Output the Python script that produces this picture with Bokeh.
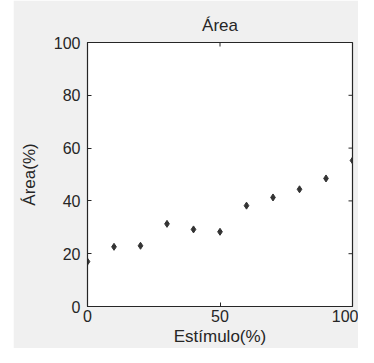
import math
from bokeh.plotting import figure
from bokeh.models import FixedTicker, Range1d, Spacer
from bokeh.layouts import row
from bokeh.embed import file_html
from bokeh.resources import INLINE

# Data
estimulo = [0, 10, 20, 30, 40, 50, 60, 70, 80, 90, 100]
area = [17, 22.6, 23, 31.3, 29.2, 28.3, 38.2, 41.3, 44.4, 48.5, 55.3]
x_ticks = [0, 50, 100]
y_ticks = [0, 20, 40, 60, 80, 100]
x_min, x_max = 0, 100
y_min, y_max = 0, 100

FONT = "Liberation Sans"
TXT = "#262626"
GREY = "#f0f0f0"

p = figure(width=345, height=347, output_backend="svg", toolbar_location=None,
           x_range=Range1d(x_min, x_max), y_range=Range1d(y_min, y_max),
           title="Área", min_border_left=74, min_border_right=6,
           min_border_top=42, min_border_bottom=41)
p.frame_width = 265
p.frame_height = 264
p.background_fill_color = "white"
p.border_fill_color = GREY
p.outline_line_color = TXT
p.outline_line_width = 1.2
p.grid.visible = False

p.title.align = "center"
p.title.text_font = FONT
p.title.text_font_size = "17px"
p.title.text_font_style = "normal"
p.title.text_color = TXT
p.title.standoff = 15

# inward ticks on the top and right edges (box style)
p.ray(x=x_ticks, y=[y_max] * len(x_ticks), length=4, length_units="screen",
      angle=-math.pi / 2, line_color=TXT, line_width=1)
p.ray(x=[x_max] * len(y_ticks), y=y_ticks, length=4, length_units="screen",
      angle=math.pi, line_color=TXT, line_width=1)

p.scatter(estimulo, area, marker="diamond", size=7, color="#333333")

for ax, ticks in ((p.xaxis[0], x_ticks), (p.yaxis[0], y_ticks)):
    ax.ticker = FixedTicker(ticks=ticks)
    ax.major_tick_in = 4
    ax.major_tick_out = 0
    ax.minor_tick_line_color = None
    ax.axis_line_color = TXT
    ax.major_tick_line_color = TXT
    ax.major_label_text_font = FONT
    ax.major_label_text_font_size = "16px"
    ax.major_label_text_color = TXT
    ax.axis_label_text_font = FONT
    ax.axis_label_text_font_size = "17px"
    ax.axis_label_text_font_style = "normal"
    ax.axis_label_text_color = TXT

p.xaxis[0].axis_label = "Estímulo(%)"
p.yaxis[0].axis_label = "Área(%)"
p.xaxis[0].major_label_standoff = 3
p.xaxis[0].axis_label_standoff = 2
p.yaxis[0].major_label_standoff = 7
p.yaxis[0].axis_label_standoff = 12

layout = row(Spacer(width=13, height=347), p)

open("out.html", "w").write(file_html(layout, INLINE))
